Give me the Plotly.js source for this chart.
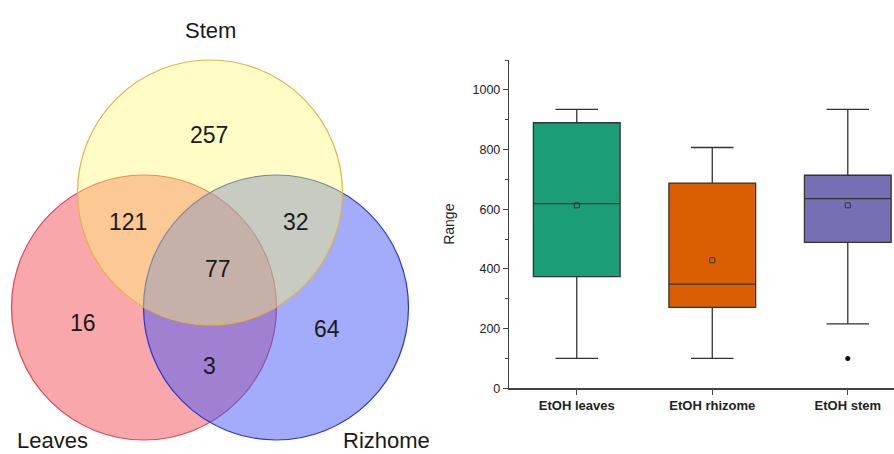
<!DOCTYPE html>
<html>
<head>
<meta charset="utf-8">
<script src="https://cdn.plot.ly/plotly-3.0.1.min.js"></script>
<style>html,body{margin:0;padding:0;background:#fff;}#chart{width:894px;height:454px;}</style>
</head>
<body>
<div id="chart"></div>
<script>
// ---- Data: Venn diagram ----
const vennSets = ["Stem", "Leaves", "Rizhome"];
const vennRegions = ["Stem only", "Leaves∩Stem", "Stem∩Rizhome", "All three", "Leaves only", "Rizhome only", "Leaves∩Rizhome"];
const vennCounts = [257, 121, 32, 77, 16, 64, 3];

// ---- Data: box plot (summary statistics) ----
const boxCategories = ["EtOH leaves", "EtOH rhizome", "EtOH stem"];
const boxLowerWhisker = [100, 100, 216];
const boxQ1 = [374, 271, 489];
const boxMedian = [619, 349, 636];
const boxQ3 = [890, 688, 714];
const boxUpperWhisker = [935, 807, 935];
const boxMean = [613, 429, 613];
const outlierCategory = ["EtOH stem"];
const outlierValue = [100];

// ---- Layout geometry (Venn drawn in a pixel-like coordinate frame) ----
const vennCircles = {          // centre x, centre y, radius
  Leaves:  {cx: 144, cy: 307.5, r: 132.5, fill: "rgba(245,80,90,0.5)",  line: "#d24a5a"},
  Rizhome: {cx: 276, cy: 307.5, r: 132.5, fill: "rgba(70,90,245,0.5)",  line: "#2a38c8"},
  Stem:    {cx: 210, cy: 192.5, r: 132.5, fill: "rgba(255,250,110,0.4)", line: "#e0b24c"}
};
const vennDrawOrder = ["Leaves", "Rizhome", "Stem"];
const setLabelPos = {Stem: [210, 30], Leaves: [52, 440], Rizhome: [386, 440]};
const regionLabelPos = [[209,135],[128,222],[296,222],[218,269],[83,323],[327,329],[209,366]];

const boxColors = ["#1b9e77", "#d95f02", "#7570b3"];
const font = "Liberation Sans, Arial, sans-serif";

const traces = boxCategories.map((c, i) => ({
  type: "box",
  x: [c],
  q1: [boxQ1[i]], median: [boxMedian[i]], q3: [boxQ3[i]],
  lowerfence: [boxLowerWhisker[i]], upperfence: [boxUpperWhisker[i]],
  fillcolor: boxColors[i],
  line: {color: "#333", width: 1.3},
  width: 0.64,
  whiskerwidth: 0.49,
  boxpoints: false,
  hoverinfo: "skip",
  showlegend: false,
  xaxis: "x", yaxis: "y"
}));
traces.push({
  type: "scatter", mode: "markers",
  x: boxCategories, y: boxMean,
  marker: {symbol: "square-open", size: 5, color: "#333", line: {width: 1}},
  showlegend: false, hoverinfo: "skip", xaxis: "x", yaxis: "y"
});
traces.push({
  type: "scatter", mode: "markers",
  x: outlierCategory, y: outlierValue,
  marker: {symbol: "circle", size: 5, color: "#111"},
  showlegend: false, hoverinfo: "skip", xaxis: "x", yaxis: "y"
});
// invisible trace to instantiate the Venn axes
traces.push({type: "scatter", mode: "markers", x: [0], y: [0], marker: {opacity: 0},
  showlegend: false, hoverinfo: "skip", xaxis: "x2", yaxis: "y2"});

const shapes = vennDrawOrder.map(name => {
  const c = vennCircles[name];
  return {type: "circle", xref: "x2", yref: "y2",
    x0: c.cx - c.r, x1: c.cx + c.r, y0: c.cy - c.r, y1: c.cy + c.r,
    fillcolor: c.fill, line: {color: c.line, width: 1.2}, layer: "above"};
});

const annotations = [];
vennSets.forEach(s => {
  annotations.push({xref: "x2", yref: "y2", x: setLabelPos[s][0], y: setLabelPos[s][1],
    text: s, showarrow: false, font: {family: font, size: 22, color: "#1a1a1a"}});
});
vennCounts.forEach((v, i) => {
  annotations.push({xref: "x2", yref: "y2", x: regionLabelPos[i][0], y: regionLabelPos[i][1],
    text: String(v), showarrow: false, font: {family: font, size: 23, color: "#1a1a1a"}});
});

const layout = {
  width: 894, height: 454,
  margin: {l: 0, r: 0, t: 0, b: 0, pad: 0},
  paper_bgcolor: "#fff", plot_bgcolor: "rgba(0,0,0,0)",
  showlegend: false,
  font: {family: font, color: "#222"},
  xaxis: {
    domain: [509/894, 1], range: [-0.5, 2.341], type: "category",
    showline: true, linecolor: "#444", linewidth: 1.2,
    ticks: "outside", ticklen: 5, tickcolor: "#444",
    showgrid: false, zeroline: false, fixedrange: true,
    tickfont: {family: font, size: 13, weight: "bold", color: "#222"},
    anchor: "y"
  },
  yaxis: {
    domain: [65.7/454, 393.9/454], range: [0, 1100],
    showline: true, linecolor: "#444", linewidth: 1.2,
    ticks: "outside", ticklen: 5, tickcolor: "#444", dtick: 200, tick0: 0,
    minor: {dtick: 100, ticks: "outside", ticklen: 3, tickcolor: "#444", showgrid: false},
    showgrid: false, zeroline: false, fixedrange: true,
    tickfont: {family: font, size: 12.5, color: "#222"},
    title: {text: "Range", font: {family: font, size: 14, color: "#222"}, standoff: 14},
    anchor: "x"
  },
  xaxis2: {domain: [0, 440/894], range: [0, 440], visible: false, fixedrange: true, anchor: "y2"},
  yaxis2: {domain: [0, 1], range: [454, 0], visible: false, fixedrange: true, anchor: "x2"},
  shapes: shapes,
  annotations: annotations
};

Plotly.newPlot("chart", traces, layout, {staticPlot: true, displayModeBar: false});
</script>
</body>
</html>
